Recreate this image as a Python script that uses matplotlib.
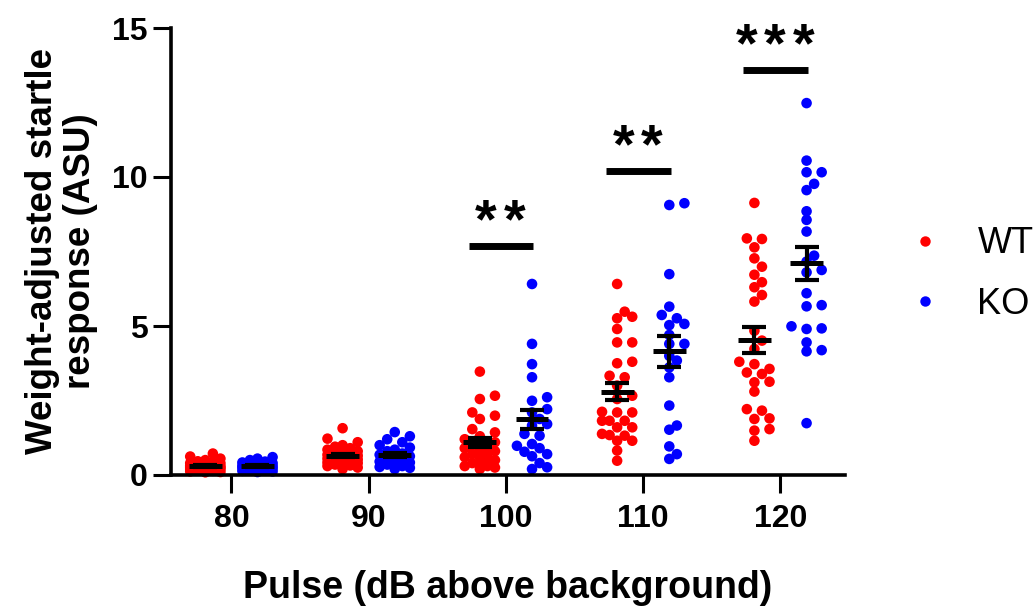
import numpy as np
import matplotlib
matplotlib.use('Agg')
from matplotlib import pyplot as plt
from matplotlib.lines import Line2D

plt.rcParams['font.family'] = ['Liberation Sans', 'DejaVu Sans']

pulses = ['80', '90', '100', '110', '120']

wt_80 = [0.72, 0.62, 0.55, 0.5, 0.46, 0.42, 0.4, 0.36, 0.33, 0.31, 0.3, 0.28, 0.26, 0.25, 0.23,
         0.22, 0.2, 0.19, 0.17, 0.15, 0.14, 0.12, 0.1, 0.09, 0.3, 0.35, 0.27, 0.21, 0.4]
ko_80 = [0.6, 0.55, 0.5, 0.45, 0.42, 0.4, 0.37, 0.35, 0.33, 0.31, 0.3, 0.28, 0.26, 0.24, 0.22,
         0.2, 0.18, 0.16, 0.14, 0.12, 0.1, 0.3]
wt_90 = [1.57, 1.22, 1.1, 1.0, 0.95, 0.9, 0.85, 0.8, 0.78, 0.75, 0.7, 0.68, 0.65, 0.62, 0.6,
         0.58, 0.55, 0.52, 0.5, 0.48, 0.45, 0.42, 0.4, 0.38, 0.35, 0.32, 0.3, 0.25, 0.2]
ko_90 = [1.44, 1.3, 1.2, 1.1, 1.0, 0.92, 0.85, 0.8, 0.72, 0.68, 0.63, 0.6, 0.55, 0.5, 0.45,
         0.42, 0.38, 0.35, 0.3, 0.27, 0.24, 0.2]
wt_100 = [3.47, 2.66, 2.55, 2.10, 1.99, 1.88, 1.54, 1.43, 1.3, 1.2, 1.1, 1.0, 1.0, 0.9, 0.9,
          0.8, 0.8, 0.7, 0.7, 0.6, 0.6, 0.5, 0.5, 0.4, 0.4, 0.3, 0.3, 0.25, 0.2]
ko_100 = [6.41, 4.40, 3.72, 3.28, 2.61, 2.49, 2.21, 2.10, 1.88, 1.71, 1.66, 1.38, 1.32, 1.04,
          0.98, 0.9, 0.78, 0.70, 0.63, 0.4, 0.26, 0.20]
wt_110 = [6.41, 5.48, 5.31, 5.26, 4.90, 4.45, 4.45, 3.80, 3.75, 3.33, 3.28, 3.00, 2.66, 2.55,
          2.12, 2.10, 2.10, 1.82, 1.82, 1.82, 1.60, 1.60, 1.38, 1.34, 1.32, 1.15, 1.15, 0.82, 0.48]
ko_110 = [9.12, 9.06, 6.74, 5.65, 5.37, 5.26, 5.07, 5.03, 4.70, 4.40, 4.40, 4.00, 3.84, 3.61,
          3.28, 2.33, 1.66, 1.52, 0.96, 0.70, 0.54]
wt_120 = [9.13, 7.94, 7.92, 7.64, 7.27, 6.99, 6.72, 6.47, 6.30, 6.04, 5.82, 4.84, 4.51, 4.23,
          3.80, 3.72, 3.56, 3.44, 3.39, 3.13, 3.11, 2.80, 2.21, 2.16, 1.90, 1.88, 1.54, 1.49, 1.15]
ko_120 = [12.48, 10.55, 10.16, 10.16, 9.77, 9.56, 8.85, 8.56, 8.17, 7.36, 7.16, 6.88, 6.80, 6.10,
          5.70, 5.66, 4.99, 4.92, 4.90, 4.45, 4.19, 4.15, 1.74]

wt = [wt_80, wt_90, wt_100, wt_110, wt_120]
ko = [ko_80, ko_90, ko_100, ko_110, ko_120]

sig_labels = ['', '', '**', '**', '***']
sig_heights = [0, 0, 7.7, 10.2, 13.6]

# pixel scale, used to lay out the dots without too much overlap
XPX, YPX = 137.5, 29.8


def swarm(vals, center, diam=8.5, step=0.055, maxw=0.13):
    vals = np.asarray(vals, float)
    cands = [0.0]
    k = 1
    while k * step <= maxw + 1e-9:
        cands += [k * step, -k * step]
        k += 1
    placed = []
    xs = np.zeros(len(vals))
    for i in np.argsort(vals):
        best, bestd = 0.0, -1
        for c in cands:
            d = min([np.hypot((c - px) * XPX, (vals[i] - py) * YPX) for px, py in placed], default=1e9)
            if d >= diam:
                best = c
                break
            if d > bestd:
                best, bestd = c, d
        xs[i] = center + best
        placed.append((best, vals[i]))
    return xs


fig = plt.figure(figsize=(10.34, 6.09), dpi=100)
ax = fig.add_axes([171 / 1034, 1 - 475 / 609, (845 - 171) / 1034, (475 - 28) / 609])

off = 0.19
for i in range(len(pulses)):
    for vals, dx, col in [(wt[i], -off, '#ff0000'), (ko[i], off, '#0000ff')]:
        xs = swarm(vals, i + dx)
        ax.scatter(xs, vals, s=58, c=col, edgecolors='none', zorder=2, clip_on=False)
        m = np.mean(vals)
        se = np.std(vals, ddof=1) / np.sqrt(len(vals))
        ax.plot([i + dx - 0.12, i + dx + 0.12], [m, m], c='k', lw=3.6, zorder=3, solid_capstyle='butt')
        ax.errorbar(i + dx, m, yerr=se, fmt='none', ecolor='k', elinewidth=3, capsize=8.5,
                    capthick=3, zorder=3)

for i, lab in enumerate(sig_labels):
    if not lab:
        continue
    h = sig_heights[i]
    ax.plot([i - 0.27, i + 0.2], [h, h], c='k', lw=5, solid_capstyle='butt', clip_on=False)
    n = len(lab)
    for j in range(n):
        ax.text(i - 0.04 + (j - (n - 1) / 2) * 0.21, h + 0.75, '*', ha='center', va='center',
                fontsize=40, fontweight='bold', clip_on=False)

ax.set_xlim(-0.44, 4.47)
ax.set_ylim(0, 15)
ax.set_xticks(range(len(pulses)))
ax.set_xticklabels(pulses)
ax.set_yticks([0, 5, 10, 15])
for s in ['top', 'right']:
    ax.spines[s].set_visible(False)
for s in ['left', 'bottom']:
    ax.spines[s].set_linewidth(2.6)
ax.tick_params(width=2.2, length=13, labelsize=23)
ax.tick_params(axis='x', pad=8)
ax.tick_params(axis='y', pad=4)
for t in ax.get_xticklabels() + ax.get_yticklabels():
    t.set_fontweight('bold')

ax.set_xlabel('Pulse (dB above background)', fontsize=27, fontweight='bold', labelpad=26)
ax.set_ylabel('Weight-adjusted startle\nresponse (ASU)', fontsize=26.5, fontweight='bold',
              labelpad=10, linespacing=1.1)

handles = [Line2D([], [], ls='none', marker='o', ms=7.5, mfc='#ff0000', mec='none'),
           Line2D([], [], ls='none', marker='o', ms=7.5, mfc='#0000ff', mec='none')]
fig.legend(handles, ['WT', 'KO'], loc='center left', bbox_to_anchor=(907 / 1034, 1 - 274 / 609),
           frameon=False, fontsize=26, handlelength=1.0, handletextpad=0.95, labelspacing=0.7,
           borderpad=0, borderaxespad=0)

fig.savefig('out.png', dpi=100)
